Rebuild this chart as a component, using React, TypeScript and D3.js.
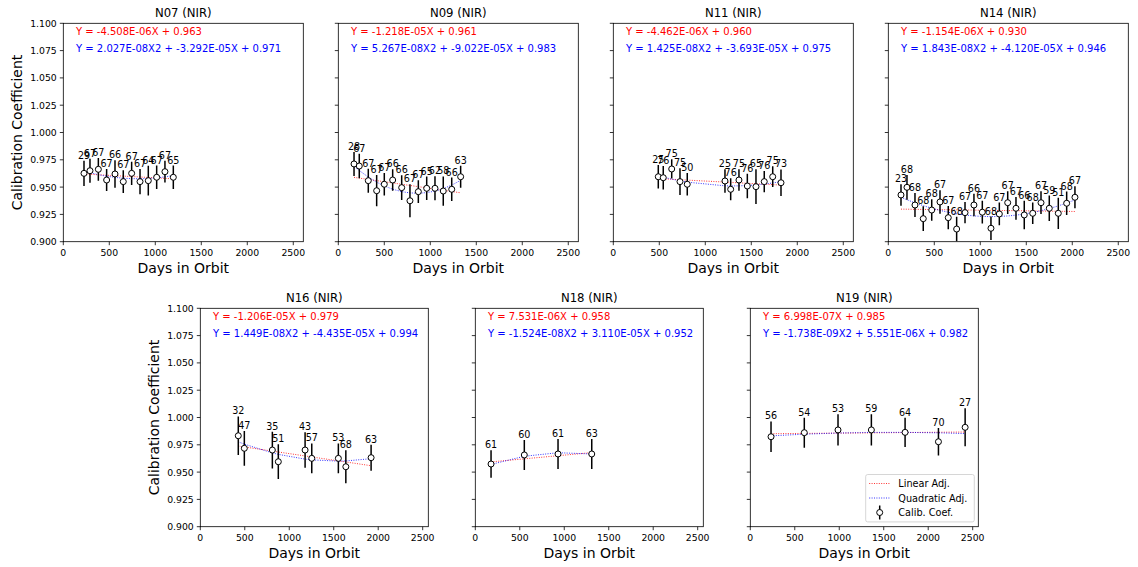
import React from "react";
import * as d3 from "d3";

// ---------- data ----------
const n07Days = [225, 290, 381, 471, 562, 652, 743, 834, 924, 1015, 1105, 1196];
const n07Coef = [0.9626, 0.965, 0.9663, 0.9565, 0.962, 0.955, 0.9626, 0.955, 0.9559, 0.959, 0.9641, 0.959];
const n07Err = [0.0116, 0.011, 0.0104, 0.01, 0.0125, 0.0104, 0.0107, 0.0116, 0.0137, 0.0107, 0.01, 0.0107];
const n07Count = ["29", "67", "67", "67", "66", "67", "67", "67", "64", "67", "67", "65"];
const n07Lin = [-4.508e-6, 0.963];
const n07Quad = [2.027e-8, -3.292e-5, 0.971];

const n09Days = [171, 228, 326, 417, 500, 591, 689, 779, 870, 961, 1051, 1141, 1233, 1330];
const n09Coef = [0.9712, 0.9693, 0.9559, 0.9467, 0.9526, 0.9565, 0.9495, 0.9375, 0.9458, 0.9489, 0.9489, 0.9464, 0.948, 0.9595];
const n09Err = [0.011, 0.0113, 0.011, 0.0143, 0.0104, 0.0098, 0.0113, 0.015, 0.0104, 0.0107, 0.011, 0.0134, 0.0107, 0.01];
const n09Count = ["28", "67", "67", "67", "67", "66", "66", "67", "67", "65", "62", "58", "66", "63"];
const n09Lin = [-1.218e-5, 0.961];
const n09Quad = [5.267e-8, -9.022e-5, 0.983];

const n11Days = [489, 543, 635, 725, 804, 1214, 1276, 1366, 1457, 1551, 1641, 1733, 1823];
const n11Coef = [0.9595, 0.9586, 0.9666, 0.955, 0.9526, 0.9556, 0.948, 0.9565, 0.951, 0.9504, 0.955, 0.9595, 0.954];
const n11Err = [0.0107, 0.0107, 0.0088, 0.0122, 0.0104, 0.0107, 0.01, 0.0098, 0.0113, 0.0159, 0.0098, 0.0095, 0.0122];
const n11Count = ["25", "76", "75", "75", "50", "25", "76", "75", "76", "65", "76", "75", "73"];
const n11Lin = [-4.462e-6, 0.96];
const n11Quad = [1.425e-8, -3.693e-5, 0.975];

const n14Days = [138, 203, 290, 380, 472, 562, 652, 743, 834, 931, 1022, 1116, 1207, 1298, 1388, 1478, 1570, 1660, 1750, 1848, 1939, 2029];
const n14Coef = [0.9428, 0.9498, 0.9336, 0.9211, 0.929, 0.9364, 0.922, 0.9116, 0.9266, 0.9336, 0.927, 0.9123, 0.9254, 0.9357, 0.9306, 0.9245, 0.926, 0.9357, 0.9306, 0.926, 0.9352, 0.9407];
const n14Err = [0.0098, 0.0113, 0.011, 0.0113, 0.0098, 0.0107, 0.0107, 0.0113, 0.0098, 0.0104, 0.0104, 0.0107, 0.0104, 0.0104, 0.0104, 0.013, 0.0098, 0.0104, 0.0116, 0.0143, 0.0107, 0.01];
const n14Count = ["23", "68", "68", "68", "68", "67", "67", "68", "67", "66", "67", "68", "67", "67", "67", "66", "68", "67", "59", "51", "68", "67"];
const n14Lin = [-1.154e-6, 0.93];
const n14Quad = [1.843e-8, -4.12e-5, 0.946];

const n16Days = [427, 495, 810, 877, 1178, 1253, 1552, 1636, 1920];
const n16Coef = [0.9833, 0.9718, 0.9702, 0.9595, 0.9702, 0.9626, 0.9626, 0.9549, 0.9632];
const n16Err = [0.0177, 0.0159, 0.0168, 0.0159, 0.0162, 0.0137, 0.0137, 0.015, 0.0119];
const n16Count = ["32", "47", "35", "51", "43", "57", "53", "68", "63"];
const n16Lin = [-1.206e-5, 0.979];
const n16Quad = [1.449e-8, -4.435e-5, 0.994];

const n18Days = [177, 551, 930, 1309];
const n18Coef = [0.9574, 0.9657, 0.9666, 0.9666];
const n18Err = [0.0125, 0.0137, 0.0137, 0.0137];
const n18Count = ["61", "60", "61", "63"];
const n18Lin = [7.531e-6, 0.958];
const n18Quad = [-1.524e-8, 3.11e-5, 0.952];

const n19Days = [233, 607, 986, 1361, 1740, 2115, 2415];
const n19Coef = [0.9824, 0.9861, 0.9886, 0.9886, 0.9864, 0.9778, 0.991];
const n19Err = [0.014, 0.0137, 0.0143, 0.0143, 0.0134, 0.0125, 0.0174];
const n19Count = ["56", "54", "53", "59", "64", "70", "27"];
const n19Lin = [6.998e-7, 0.985];
const n19Quad = [-1.738e-9, 5.551e-6, 0.982];

const xTicks = [0, 500, 1000, 1500, 2000, 2500];
const yTicks = [0.9, 0.925, 0.95, 0.975, 1.0, 1.025, 1.05, 1.075, 1.1];
const legendLabels = ["Linear Adj.", "Quadratic Adj.", "Calib. Coef."];

// ---------- layout ----------
const FONT = "DejaVu Sans, sans-serif";
const PH = 218.4;

type Series = {
  name: string;
  days: number[];
  coef: number[];
  err: number[];
  count: string[];
  lin: number[];
  quad: number[];
};

const series: Series[] = [
  { name: "N07", days: n07Days, coef: n07Coef, err: n07Err, count: n07Count, lin: n07Lin, quad: n07Quad },
  { name: "N09", days: n09Days, coef: n09Coef, err: n09Err, count: n09Count, lin: n09Lin, quad: n09Quad },
  { name: "N11", days: n11Days, coef: n11Coef, err: n11Err, count: n11Count, lin: n11Lin, quad: n11Quad },
  { name: "N14", days: n14Days, coef: n14Coef, err: n14Err, count: n14Count, lin: n14Lin, quad: n14Quad },
  { name: "N16", days: n16Days, coef: n16Coef, err: n16Err, count: n16Count, lin: n16Lin, quad: n16Quad },
  { name: "N18", days: n18Days, coef: n18Coef, err: n18Err, count: n18Count, lin: n18Lin, quad: n18Quad },
  { name: "N19", days: n19Days, coef: n19Coef, err: n19Err, count: n19Count, lin: n19Lin, quad: n19Quad },
];

const layouts = [
  { left: 63.3, top: 23.3, width: 240, xMax: 2609 },
  { left: 338.3, top: 23.3, width: 240, xMax: 2609 },
  { left: 613.3, top: 23.3, width: 240, xMax: 2609 },
  { left: 888.3, top: 23.3, width: 240, xMax: 2609 },
  { left: 200.3, top: 308.3, width: 228, xMax: 2563 },
  { left: 475.3, top: 308.3, width: 228, xMax: 2563 },
  { left: 750.3, top: 308.3, width: 228, xMax: 2563 },
];

function fmtE(v: number): string {
  const [m, e] = v.toExponential(3).split("e");
  const n = parseInt(e, 10);
  return `${m}E${n < 0 ? "-" : "+"}${String(Math.abs(n)).padStart(2, "0")}`;
}

function Panel({ s, lay, idx }: { s: Series; lay: typeof layouts[0]; idx: number }) {
  const { left, top, width, xMax } = lay;
  const bottom = top + PH;
  const x = d3.scaleLinear().domain([0, xMax]).range([left, left + width]);
  const y = d3.scaleLinear().domain([0.9, 1.1]).range([bottom, top]);
  const lin = d3
    .line<number>()
    .x((d) => x(d))
    .y((d) => y(s.lin[0] * d + s.lin[1]));
  const quad = d3
    .line<number>()
    .x((d) => x(d))
    .y((d) => y(s.quad[0] * d * d + s.quad[1] * d + s.quad[2]));
  const clipId = `clip-${idx}`;
  const showYLabel = idx === 0 || idx === 4;
  const showLegend = idx === 6;
  const cx = left + width / 2;
  const linText = `Y = ${fmtE(s.lin[0])}X + ${s.lin[1].toFixed(3)}`;
  const quadText = `Y = ${fmtE(s.quad[0])}X2 + ${fmtE(s.quad[1])}X + ${s.quad[2].toFixed(3)}`;

  return (
    <g>
      <defs>
        <clipPath id={clipId}>
          <rect x={left} y={top} width={width} height={PH} />
        </clipPath>
      </defs>
      <rect x={left} y={top} width={width} height={PH} fill="#fff" />
      <g clipPath={`url(#${clipId})`}>
        <path d={lin(s.days) || ""} fill="none" stroke="#ff0000" strokeWidth={0.8} strokeDasharray="1,1.4" />
        <path d={quad(s.days) || ""} fill="none" stroke="#0000ff" strokeWidth={0.8} strokeDasharray="1,1.4" />
        {s.days.map((d, i) => (
          <line
            key={"e" + i}
            x1={x(d)}
            x2={x(d)}
            y1={y(s.coef[i] - s.err[i])}
            y2={y(s.coef[i] + s.err[i])}
            stroke="#000"
            strokeWidth={1.5}
          />
        ))}
        {s.days.map((d, i) => (
          <circle key={"c" + i} cx={x(d)} cy={y(s.coef[i])} r={3} fill="#fff" stroke="#000" strokeWidth={1} />
        ))}
      </g>
      {s.days.map((d, i) => (
        <text
          key={"t" + i}
          x={x(d)}
          y={y(s.coef[i] + s.err[i]) - 2}
          textAnchor="middle"
          fontSize={9.6}
          fontFamily={FONT}
          fill="#000"
        >
          {s.count[i]}
        </text>
      ))}
      <text x={left + 12.7} y={top + 11.3} fontSize={10} fontFamily={FONT} fill="#ff0000">
        {linText}
      </text>
      <text x={left + 12.7} y={top + 28.7} fontSize={10} fontFamily={FONT} fill="#0000ff">
        {quadText}
      </text>
      <rect x={left} y={top} width={width} height={PH} fill="none" stroke="#000" strokeWidth={0.8} />
      {xTicks.map((t) => (
        <g key={"x" + t}>
          <line x1={x(t)} x2={x(t)} y1={bottom} y2={bottom + 3.5} stroke="#000" strokeWidth={0.8} />
          <text x={x(t)} y={bottom + 14} textAnchor="middle" fontSize={9.3} fontFamily={FONT} fill="#000">
            {t}
          </text>
        </g>
      ))}
      {yTicks.map((t) => (
        <g key={"y" + t}>
          <line x1={left - 3.5} x2={left} y1={y(t)} y2={y(t)} stroke="#000" strokeWidth={0.8} />
          {showYLabel && (
            <text x={left - 6.5} y={y(t) + 3.4} textAnchor="end" fontSize={9.3} fontFamily={FONT} fill="#000">
              {t.toFixed(3)}
            </text>
          )}
        </g>
      ))}
      <text x={cx} y={top - 6.3} textAnchor="middle" fontSize={11.7} fontFamily={FONT} fill="#000">
        {`${s.name} (NIR)`}
      </text>
      <text x={cx} y={bottom + 31} textAnchor="middle" fontSize={14} fontFamily={FONT} fill="#000">
        Days in Orbit
      </text>
      {showYLabel && (
        <text
          transform={`translate(${left - 41.5},${(top + bottom) / 2}) rotate(-90)`}
          textAnchor="middle"
          fontSize={14}
          fontFamily={FONT}
          fill="#000"
        >
          Calibration Coefficient
        </text>
      )}
      {showLegend && (
        <g>
          <rect
            x={left + width - 4 - 108.6}
            y={bottom - 4.8 - 47.4}
            width={108.6}
            height={47.4}
            rx={2}
            fill="#fff"
            fillOpacity={0.8}
            stroke="#cccccc"
            strokeWidth={0.8}
          />
          {legendLabels.map((lab, i) => {
            const ly = bottom - 4.8 - 47.4 + 9 + i * 14.5;
            const lx = left + width - 4 - 108.6;
            return (
              <g key={lab}>
                {i === 0 && (
                  <line x1={lx + 3.5} x2={lx + 24.5} y1={ly} y2={ly} stroke="#ff0000" strokeWidth={0.8} strokeDasharray="1,1.4" />
                )}
                {i === 1 && (
                  <line x1={lx + 3.5} x2={lx + 24.5} y1={ly} y2={ly} stroke="#0000ff" strokeWidth={0.8} strokeDasharray="1,1.4" />
                )}
                {i === 2 && (
                  <g>
                    <line x1={lx + 14} x2={lx + 14} y1={ly - 7} y2={ly + 7} stroke="#000" strokeWidth={1.5} />
                    <circle cx={lx + 14} cy={ly} r={3} fill="#fff" stroke="#000" strokeWidth={1} />
                  </g>
                )}
                <text x={lx + 32.6} y={ly + 3.5} fontSize={9.7} fontFamily={FONT} fill="#000">
                  {lab}
                </text>
              </g>
            );
          })}
        </g>
      )}
    </g>
  );
}

export default function App() {
  return (
    <div style={{ position: "absolute", left: 0, top: 0, width: 1138, height: 567, background: "#fff" }}>
      <svg width={1138} height={567} viewBox="0 0 1138 567" style={{ display: "block" }}>
        <rect x={0} y={0} width={1138} height={567} fill="#fff" />
        {series.map((s, i) => (
          <Panel key={s.name} s={s} lay={layouts[i]} idx={i} />
        ))}
      </svg>
    </div>
  );
}
